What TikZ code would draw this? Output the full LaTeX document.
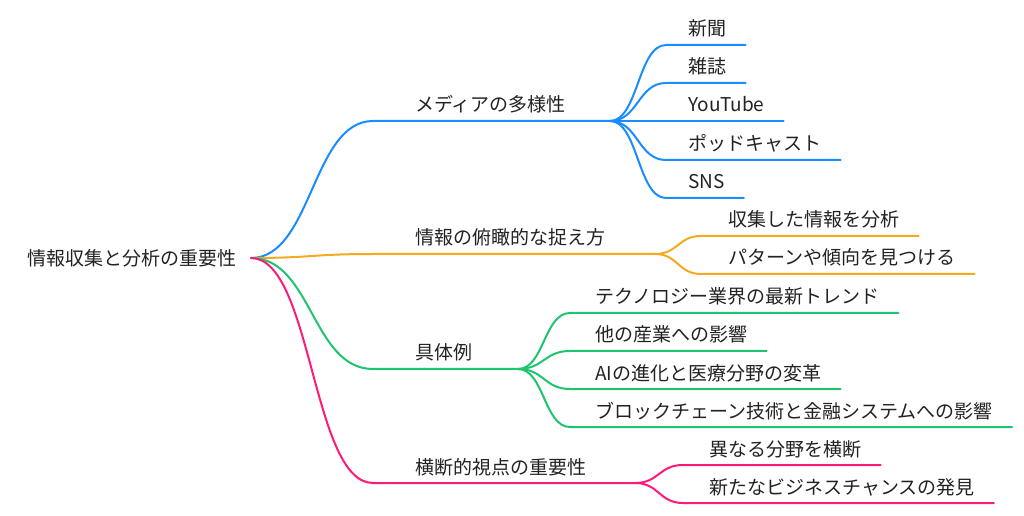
\documentclass[tikz,border=0pt]{standalone}
\usepackage{fontspec}
\setmainfont{Noto Sans CJK JP}
\usetikzlibrary{calc,positioning}

\definecolor{txt}{HTML}{222222}
\definecolor{cblue}{HTML}{1A8CFF}
\definecolor{corange}{HTML}{F5AA1E}
\definecolor{cgreen}{HTML}{1EC46E}
\definecolor{cpink}{HTML}{FF1A78}

\tikzset{
  every node/.style={font=\fontsize{14.25}{16}\selectfont, text=txt},
  rootbox/.style={anchor=west, inner sep=0pt},
  topic/.style={anchor=base west, inner sep=0pt},
  leaf/.style={anchor=base west, inner sep=0pt},
  branch/.style={line width=1.5pt, line cap=round},
  sway/.style={to path={let \p1=(\tikztostart), \p2=(\tikztotarget) in
      .. controls ({(\x1+\x2)/2},\y1) and ({(\x1+\x2)/2},\y2) .. (\tikztotarget)}},
}

\begin{document}
\begin{tikzpicture}[x=0.75pt, y=-0.75pt]
	\useasboundingbox (0,0) rectangle (1024,516);

	% root
	\node[rootbox] (root) at (27,258) {情報収集と分析の重要性};
	\coordinate (origin) at (251,258);

	% topics
	\node[topic] (media) at (415,112) {メディアの多様性};
	\node[topic] (view) at (415,245) {情報の俯瞰的な捉え方};
	\node[topic] (example) at (415,360) {具体例};
	\node[topic] (cross) at (415,474) {横断的視点の重要性};

	\coordinate (mediaHub) at (610,121);
	\coordinate (viewHub) at (655,254);
	\coordinate (exampleHub) at (518,369);
	\coordinate (crossHub) at (635,483);

	\draw[branch, cblue] (origin) to[sway] ($(media.base west)+(-42,9)$) -- (mediaHub);
	\draw[branch, corange] (origin) to[sway] ($(view.base west)+(-42,9)$) -- (viewHub);
	\draw[branch, cgreen] (origin) to[sway] ($(example.base west)+(-42,9)$) -- (exampleHub);
	\draw[branch, cpink] (origin) to[sway] ($(cross.base west)+(-42,9)$) -- (crossHub);

	% media leaves
	\node[leaf] (paper) at (688,36) {新聞};
	\node[leaf] (magazine) at (688,74) {雑誌};
	\node[leaf] (youtube) at (688,112) {YouTube};
	\node[leaf] (podcast) at (688,151) {ポッドキャスト};
	\node[leaf] (sns) at (688,189) {SNS};
	\foreach \n in {paper,magazine,youtube,podcast,sns}
		\draw[branch, cblue] (mediaHub) to[sway] ($(\n.base west)+(-22,9)$) -- ($(\n.base east)+(19,9)$);

	% view leaves
	\node[leaf] (analyse) at (728,227) {収集した情報を分析};
	\node[leaf] (pattern) at (728,265) {パターンや傾向を見つける};
	\foreach \n in {analyse,pattern}
		\draw[branch, corange] (viewHub) to[sway] ($(\n.base west)+(-27,9)$) -- ($(\n.base east)+(19,9)$);

	% example leaves
	\node[leaf] (trend) at (595,304) {テクノロジー業界の最新トレンド};
	\node[leaf] (industry) at (595,342) {他の産業への影響};
	\node[leaf] (medical) at (595,380) {AIの進化と医療分野の変革};
	\node[leaf] (chain) at (595,418) {ブロックチェーン技術と金融システムへの影響};
	\foreach \n in {trend,industry,medical,chain}
		\draw[branch, cgreen] (exampleHub) to[sway] ($(\n.base west)+(-25,9)$) -- ($(\n.base east)+(19,9)$);

	% cross leaves
	\node[leaf] (fields) at (709,456) {異なる分野を横断};
	\node[leaf] (chance) at (709,494) {新たなビジネスチャンスの発見};
	\foreach \n in {fields,chance}
		\draw[branch, cpink] (crossHub) to[sway] ($(\n.base west)+(-26,9)$) -- ($(\n.base east)+(19,9)$);
\end{tikzpicture}
\end{document}
